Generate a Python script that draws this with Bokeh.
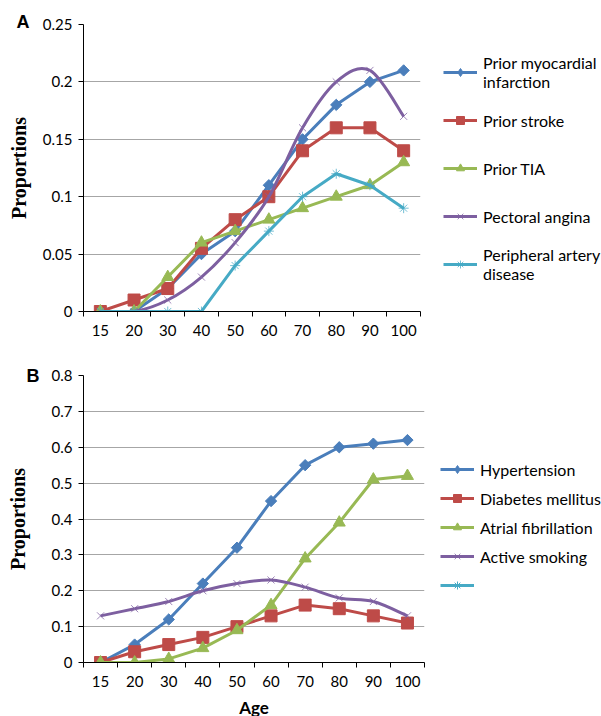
import math
from bokeh.plotting import figure
from bokeh.layouts import column
from bokeh.models import FixedTicker, Legend, LegendItem, Range1d
from bokeh.embed import file_html
from bokeh.resources import INLINE

# ---------------- data ----------------
ages = ["15", "20", "30", "40", "50", "60", "70", "80", "90", "100"]

a_mi = [0, 0, 0.02, 0.05, 0.07, 0.11, 0.15, 0.18, 0.20, 0.21]
a_stroke = [0, 0.01, 0.02, 0.055, 0.08, 0.10, 0.14, 0.16, 0.16, 0.14]
a_tia = [0, 0, 0.03, 0.06, 0.07, 0.08, 0.09, 0.10, 0.11, 0.13]
a_angina = [0, 0, 0.01, 0.03, 0.06, 0.10, 0.16, 0.20, 0.21, 0.17]
a_pad = [0, 0, 0, 0, 0.04, 0.07, 0.10, 0.12, 0.11, 0.09]

b_htn = [0, 0.05, 0.12, 0.22, 0.32, 0.45, 0.55, 0.60, 0.61, 0.62]
b_dm = [0, 0.03, 0.05, 0.07, 0.10, 0.13, 0.16, 0.15, 0.13, 0.11]
b_af = [0, 0, 0.01, 0.04, 0.09, 0.16, 0.29, 0.39, 0.51, 0.52]
b_smoke = [0.13, 0.15, 0.17, 0.20, 0.22, 0.23, 0.21, 0.18, 0.17, 0.13]

a_yticks = [0, 0.05, 0.1, 0.15, 0.2, 0.25]
a_ylabels = ["0", "0.05", "0.1", "0.15", "0.2", "0.25"]
b_yticks = [0, 0.1, 0.2, 0.3, 0.4, 0.5, 0.6, 0.7, 0.8]
b_ylabels = ["0", "0.1", "0.2", "0.3", "0.4", "0.5", "0.6", "0.7", "0.8"]

a_names = ["Prior myocardial\ninfarction", "Prior stroke", "Prior TIA",
           "Pectoral angina", "Peripheral artery\ndisease"]
b_names = ["Hypertension", "Diabetes mellitus", "Atrial fibrillation",
           "Active smoking", " "]

# ---------------- styles ----------------
FONT = "Lato"
BLUE = "#4A7EBB"
RED = "#BE4B48"
GREEN = "#98B954"
PURPLE = "#7D5FA0"
CYAN = "#46AAC5"
GRID = "#A6A6A6"

n = len(ages)
xs = [i + 0.5 for i in range(n)]
NAN = float("nan")
no_values = [NAN] * n   # legend-only glyphs (nothing drawn in the plot)


def bezier_data(x, y):
    d = dict(x0=[], y0=[], x1=[], y1=[], cx0=[], cy0=[], cx1=[], cy1=[])
    m = len(x)
    for i in range(m - 1):
        xm, ym = (x[i - 1], y[i - 1]) if i > 0 else (x[i], y[i])
        xp, yp = (x[i + 2], y[i + 2]) if i + 2 < m else (x[i + 1], y[i + 1])
        d["x0"].append(x[i]); d["y0"].append(y[i])
        d["x1"].append(x[i + 1]); d["y1"].append(y[i + 1])
        d["cx0"].append(x[i] + (x[i + 1] - xm) / 6)
        d["cy0"].append(y[i] + (y[i + 1] - ym) / 6)
        d["cx1"].append(x[i + 1] - (xp - x[i]) / 6)
        d["cy1"].append(y[i + 1] - (yp - y[i]) / 6)
    return d


def make_fig(panel, ymax, yticks, ylabels, left, top, fw, fh, bottom, right,
             ylabel_standoff, title_offset, title_standoff, xlabel=None):
    p = figure(output_backend="svg", toolbar_location=None, title=panel,
               x_range=Range1d(0, n), y_range=Range1d(0, ymax),
               frame_width=fw, frame_height=fh,
               min_border_left=left, min_border_top=top,
               min_border_bottom=bottom, min_border_right=right)
    p.outline_line_color = None
    p.title.align = "left"
    p.title.offset = title_offset
    p.title.standoff = title_standoff
    p.title.vertical_align = "bottom"
    p.title.text_font = "Liberation Sans"
    p.title.text_font_style = "bold"
    p.title.text_font_size = "18px"
    p.title.text_color = "#000000"

    p.xgrid.visible = False
    p.ygrid.ticker = FixedTicker(ticks=yticks)
    p.ygrid.grid_line_color = GRID
    p.ygrid.grid_line_width = 1

    xa = p.xaxis[0]
    xa.ticker = FixedTicker(ticks=xs, minor_ticks=list(range(n + 1)))
    xa.major_label_overrides = {xs[i]: ages[i] for i in range(n)}
    xa.major_tick_out = 0
    xa.major_tick_in = 0
    xa.minor_tick_out = 5
    xa.minor_tick_in = 0
    xa.minor_tick_line_color = "#000000"
    xa.axis_line_color = "#000000"
    xa.major_label_standoff = 8
    xa.major_label_text_font = FONT
    xa.major_label_text_font_size = "15px"
    xa.major_label_text_color = "#000000"
    if xlabel:
        xa.axis_label = xlabel
        xa.axis_label_text_font = FONT
        xa.axis_label_text_font_style = "bold"
        xa.axis_label_text_font_size = "17px"
        xa.axis_label_text_color = "#000000"
        xa.axis_label_standoff = 7

    ya = p.yaxis[0]
    ya.ticker = FixedTicker(ticks=yticks)
    ya.major_label_overrides = {yticks[i]: ylabels[i] for i in range(len(yticks))}
    ya.major_tick_out = 5
    ya.major_tick_in = 0
    ya.major_tick_line_color = "#000000"
    ya.minor_tick_out = 0
    ya.minor_tick_in = 0
    ya.axis_line_color = "#000000"
    ya.major_label_standoff = 6
    ya.major_label_text_font = FONT
    ya.major_label_text_font_size = "15px"
    ya.major_label_text_color = "#000000"
    ya.axis_label = "Proportions"
    ya.axis_label_text_font = "Liberation Serif"
    ya.axis_label_text_font_style = "bold"
    ya.axis_label_text_font_size = "20px"
    ya.axis_label_text_color = "#000000"
    ya.axis_label_standoff = ylabel_standoff
    return p


def series(p, ys, color, marker, size, angle=0.0, thin=False, smooth=False,
           legend_marker=None):
    rends = []
    if smooth:
        p.bezier(line_color=color, line_width=3, **bezier_data(xs, ys))
        rends.append(p.line(xs, no_values, line_color=color, line_width=3))
    else:
        rends.append(p.line(xs, ys, line_color=color, line_width=3))
    if thin:
        sc = p.scatter(xs, ys, marker=marker, size=size, line_color=color,
                       line_width=1, line_alpha=0.75)
    else:
        sc = p.scatter(xs, ys, marker=marker, size=size, angle=angle,
                       fill_color=color, line_color=color, line_width=1)
    if legend_marker:
        rends.append(p.scatter(xs, no_values, marker=legend_marker, size=size,
                               fill_color=color, line_color=color, line_width=1))
    else:
        rends.append(sc)
    return rends


def make_legend(items, loc, gh, lh, spacing, fsize):
    leg = Legend(items=items, location=loc, glyph_width=34, glyph_height=gh,
                 label_height=lh, spacing=spacing, padding=0, margin=0,
                 label_standoff=6, border_line_alpha=0, background_fill_alpha=0,
                 label_text_font=FONT, label_text_font_size=fsize,
                 label_text_color="#000000")
    return leg


# ---------------- panel A ----------------
pA = make_fig("A", 0.25, a_yticks, a_ylabels, 83, 24, 337, 287, 47, 181, 10, -67, -14)
rA = [
    series(pA, a_mi, BLUE, "square", 8, angle=math.pi / 4, legend_marker="diamond"),
    series(pA, a_stroke, RED, "square", 12),
    series(pA, a_tia, GREEN, "triangle", 12),
    series(pA, a_angina, PURPLE, "x", 10, thin=True, smooth=True),
    series(pA, a_pad, CYAN, "asterisk", 10, thin=True),
]
legA = make_legend([LegendItem(label=a_names[i], renderers=rA[i]) for i in range(5)],
                   (23, 26), 20, 42, 6, "16px")
pA.add_layout(legA, "right")

# ---------------- panel B ----------------
pB = make_fig("B", 0.8, b_yticks, b_ylabels, 76, 17, 341, 287, 53, 184, 20, -57, -20,
              xlabel="Age")
rB = [
    series(pB, b_htn, BLUE, "square", 8, angle=math.pi / 4, legend_marker="diamond"),
    series(pB, b_dm, RED, "square", 12),
    series(pB, b_af, GREEN, "triangle", 12),
    series(pB, b_smoke, PURPLE, "x", 10, thin=True, smooth=True),
]
empty_line = pB.line(xs, no_values, line_color=CYAN, line_width=3)
empty_mark = pB.scatter(xs, no_values, marker="asterisk", size=10, line_color=CYAN,
                        line_width=1)
rB.append([empty_line, empty_mark])
legB = make_legend([LegendItem(label=b_names[i], renderers=rB[i]) for i in range(5)],
                   (16, 67), 20, 20, 9, "16px")
pB.add_layout(legB, "right")

layout = column(pA, pB, spacing=0)
open("out.html", "w").write(file_html(layout, INLINE))
